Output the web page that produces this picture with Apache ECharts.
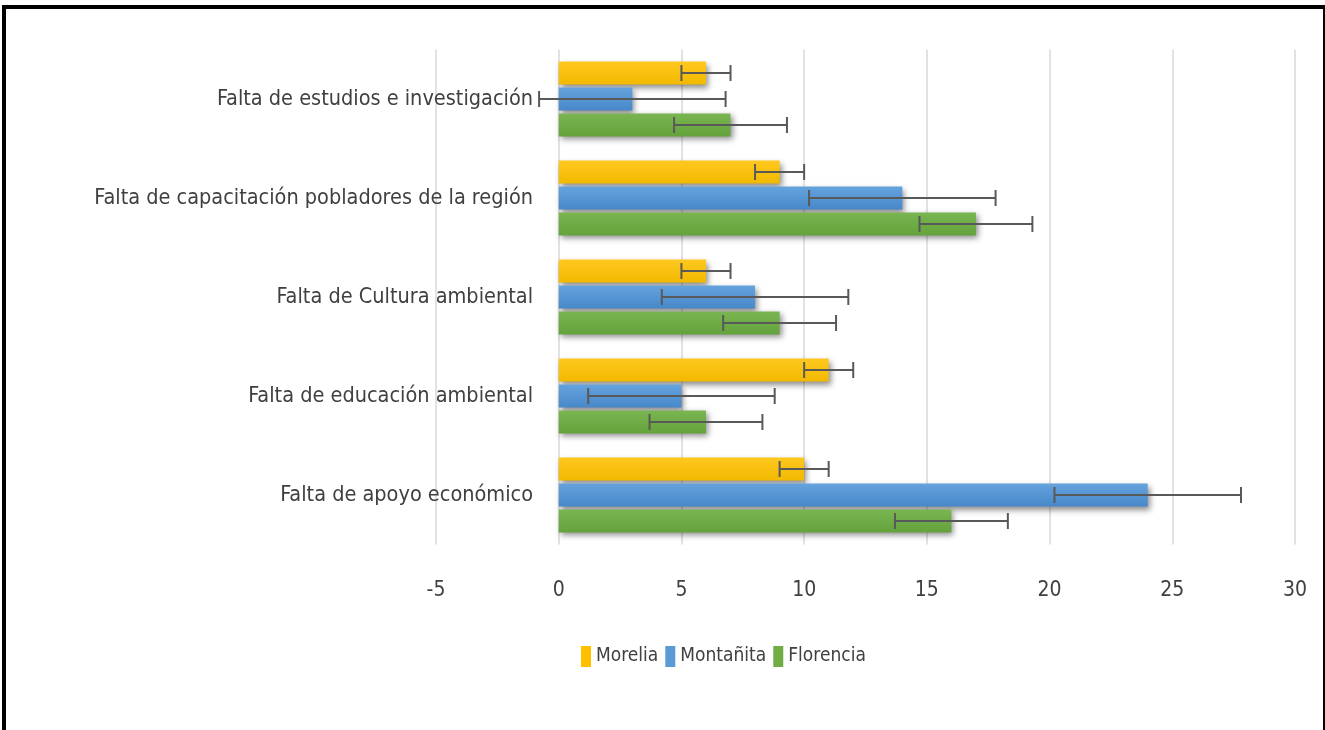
<!DOCTYPE html>
<html>
<head>
<meta charset="utf-8">
<script src="https://cdn.jsdelivr.net/npm/echarts@6/dist/echarts.min.js"></script>
<style>
html,body{margin:0;padding:0;background:#fff;}
#chart{width:1325px;height:730px;}
#frame{position:absolute;left:2px;top:5px;width:1317px;height:723px;border-left:4px solid #000;border-top:4px solid #000;border-right:4px solid #000;border-bottom:1px solid #e6e6e6;pointer-events:none;}
</style>
</head>
<body>
<div id="chart"></div>
<div id="frame"></div>
<script>
// Categories listed bottom to top (ECharts category y-axis order)
const categories = [
  'Falta de apoyo económico',
  'Falta de educación ambiental',
  'Falta de Cultura ambiental',
  'Falta de capacitación pobladores de la región',
  'Falta de estudios e investigación'
];
const seriesNames = ['Morelia', 'Montañita', 'Florencia'];
const morelia   = [10, 11, 6, 9, 6];
const montanita = [24, 5, 8, 14, 3];
const florencia = [16, 6, 9, 17, 7];
const moreliaErr   = [1, 1, 1, 1, 1];
const montanitaErr = [3.8, 3.8, 3.8, 3.8, 3.8];
const florenciaErr = [2.3, 2.3, 2.3, 2.3, 2.3];
const xTicks = [-5, 0, 5, 10, 15, 20, 25, 30];

const FONT = "'Liberation Sans Narrow','DejaVu Sans Condensed','Open Sans',sans-serif";
const BAR_W = 23;
const GAP_PCT = 0.13;
const values = [morelia, montanita, florencia];
const errs = [moreliaErr, montanitaErr, florenciaErr];
const colors = [
  ['#FFC81F', '#F2B900'],
  ['#65A3DD', '#4788CA'],
  ['#79B651', '#64A23C']
];
const legendColors = ['#FFC000', '#5B9BD5', '#70AD47'];

const total = BAR_W * 3 + BAR_W * GAP_PCT * 2;
function offsetOf(i) { return -total / 2 + i * BAR_W * (1 + GAP_PCT) + BAR_W / 2; }

const series = [];
seriesNames.forEach(function (name, i) {
  series.push({
    name: name,
    type: 'bar',
    barWidth: BAR_W,
    barGap: (GAP_PCT * 100) + '%',
    data: values[i],
    itemStyle: {
      color: new echarts.graphic.LinearGradient(0, 0, 0, 1, [
        { offset: 0, color: colors[i][0] },
        { offset: 1, color: colors[i][1] }
      ]),
      shadowBlur: 6,
      shadowColor: 'rgba(0,0,0,0.45)',
      shadowOffsetX: 2,
      shadowOffsetY: 3
    },
    emphasis: { disabled: true },
    z: 2
  });
});
seriesNames.forEach(function (name, i) {
  const data = categories.map(function (c, k) {
    return [k, values[i][k] - errs[i][k], values[i][k] + errs[i][k]];
  });
  series.push({
    type: 'custom',
    name: name + ' err',
    data: data,
    z: 5,
    silent: true,
    encode: { y: 0, x: [1, 2] },
    renderItem: function (params, api) {
      const cat = api.value(0);
      const p1 = api.coord([api.value(1), cat]);
      const p2 = api.coord([api.value(2), cat]);
      const y = p1[1] + offsetOf(i);
      const h = 8;
      const st = { stroke: '#595959', lineWidth: 2 };
      return {
        type: 'group',
        children: [
          { type: 'line', shape: { x1: p1[0], y1: y, x2: p2[0], y2: y }, style: st },
          { type: 'line', shape: { x1: p1[0], y1: y - h, x2: p1[0], y2: y + h }, style: st },
          { type: 'line', shape: { x1: p2[0], y1: y - h, x2: p2[0], y2: y + h }, style: st }
        ]
      };
    }
  });
});

const chart = echarts.init(document.getElementById('chart'));
chart.setOption({
  animation: false,
  backgroundColor: '#fff',
  grid: { left: 436, right: 30, top: 49.5, bottom: 185.5, containLabel: false, outerBoundsMode: 'none' },
  legend: {
    data: seriesNames.map(function (n, i) { return { name: n, itemStyle: { color: legendColors[i] } }; }),
    left: 576,
    top: 641,
    itemWidth: 10,
    itemHeight: 21,
    itemGap: 7,
    icon: 'rect',
    textStyle: { fontFamily: FONT, fontSize: 19, color: '#404040' }
  },
  xAxis: {
    type: 'value',
    min: -5,
    max: 30,
    interval: 5,
    axisLine: { show: false },
    axisTick: { show: false },
    splitLine: { show: true, lineStyle: { color: '#d9d9d9', width: 1.5 } },
    axisLabel: {
      margin: 36,
      fontFamily: FONT,
      fontSize: 21,
      color: '#404040',
      formatter: function (v) { return xTicks.indexOf(v) >= 0 ? String(v) : ''; }
    }
  },
  yAxis: {
    type: 'category',
    data: categories,
    offset: -123,
    axisLine: { show: false, onZero: false },
    axisTick: { show: false },
    axisLabel: { margin: 26, fontFamily: FONT, fontSize: 21.5, color: '#404040' }
  },
  series: series
});
</script>
</body>
</html>
